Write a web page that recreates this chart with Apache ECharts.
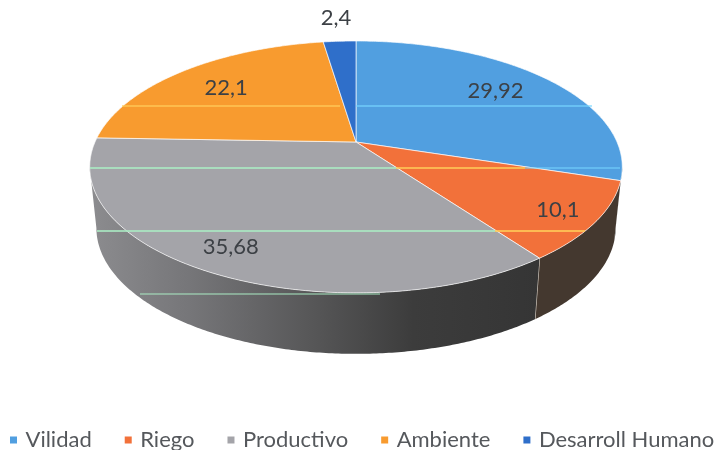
<!DOCTYPE html>
<html><head><meta charset="utf-8">
<style>html,body{margin:0;padding:0;background:#fff}#c{width:719px;height:450px}</style>
<script src="https://cdn.jsdelivr.net/npm/echarts@6/dist/echarts.min.js"></script>
</head><body><div id="c"></div>
<script>
const categories = ['Vilidad','Riego','Productivo','Ambiente','Desarroll Humano'];
const values = [29.92,10.1,35.68,22.1,2.4];
const topColors = ['#519fe0','#f2713a','#a4a4a9','#f89b2f','#2f6fca'];

const total = values.reduce((a,b)=>a+b,0);
const cum = [0]; values.forEach((v,i)=>cum.push(cum[i]+v));
const CX=356, CY=142, A=261, B=121, K=-0.198, DEPTH=61, SHRINK=0.975;
const WALL_FROM=Math.acos(K), WALL_TO=2*Math.PI-Math.acos(K);
function proj(theta,r){
  const u=Math.sin(theta)*r, v=-Math.cos(theta)*r, d=1+K*v;
  return [CX+A*u/d, CY+B*v/d];
}
function low(p){return [CX+(p[0]-CX)*SHRINK, p[1]+DEPTH];}
function ang(x){return x/total*2*Math.PI;}
function arc(a0,a1){
  const n=Math.max(2,Math.ceil((a1-a0)/0.01)),pts=[];
  for(let i=0;i<=n;i++)pts.push(proj(a0+(a1-a0)*i/n,1));
  return pts;
}
const wallFill=[
  '#2b2b2b','#44382f',
  {type:'linear',x:0,y:0,x2:1,y2:0,colorStops:[{offset:0,color:'#8c8c8f'},{offset:0.22,color:'#767679'},{offset:0.5,color:'#565657'},{offset:0.72,color:'#3c3c3c'},{offset:1,color:'#353535'}]},
  '#8a6a3a','#2a4a80'
];
const labelPlace=[[0.78,-11,0],[0.78,20,7],[0.78,-15,8],[0.78,8,3],[1.2,-1,-7]];
const fmt=v=>String(v).replace('.',',');
const FONT='Lato, "Open Sans", sans-serif';

function renderWall(params){
  const i=params.dataIndex;
  const a0=Math.max(ang(cum[i]),WALL_FROM), a1=Math.min(ang(cum[i+1]),WALL_TO);
  if(a1<=a0) return {type:'group',children:[]};
  const t=arc(a0,a1), pts=t.concat(t.slice().reverse().map(low));
  const kids=[{type:'polygon',shape:{points:pts},style:{fill:wallFill[i]}}];
  if(a1<WALL_TO && ang(cum[i+1])>WALL_FROM+0.2){
    const p=proj(a1,1),q=low(p);
    kids.push({type:'line',shape:{x1:p[0],y1:p[1],x2:q[0],y2:q[1]},style:{stroke:'#d8cfc4',lineWidth:1.2}});
  }
  return {type:'group',children:kids};
}
function renderTop(i){
  return function(){
    const a0=ang(cum[i]),a1=ang(cum[i+1]);
    const pts=[[CX,CY]].concat(arc(a0,a1));
    return {type:'polygon',shape:{points:pts},style:{fill:topColors[i],stroke:'rgba(255,255,255,0.65)',lineWidth:1}};
  };
}
function renderLabel(params){
  const i=params.dataIndex, lp=labelPlace[i];
  const p=proj(ang(cum[i]+values[i]/2),lp[0]);
  return {type:'text',x:p[0]+lp[1],y:p[1]+lp[2],style:{text:fmt(values[i]),font:'22px '+FONT,fill:'#3c4045',textAlign:'center',textVerticalAlign:'middle'}};
}
const series=[{type:'custom',name:'paredes',coordinateSystem:'none',renderItem:renderWall,data:values,z:1,silent:true}];
categories.forEach((n,i)=>series.push({type:'custom',name:n,coordinateSystem:'none',renderItem:renderTop(i),data:[values[i]],z:2,itemStyle:{color:topColors[i]}}));
series.push({type:'custom',name:'etiquetas',coordinateSystem:'none',renderItem:renderLabel,data:values,z:4,silent:true});

// horizontal scanner streaks of the source picture
const streaks=[
  [122,106,340,'rgba(255,205,90,0.65)'],[356,106,592,'rgba(120,215,255,0.6)'],
  [90,168,396,'rgba(170,235,195,0.8)'],[396,168,525,'rgba(255,205,90,0.75)'],[525,168,620,'rgba(120,215,255,0.5)'],
  [97,231,495,'rgba(170,235,195,0.8)'],[495,231,585,'rgba(255,205,90,0.8)'],
  [140,294,380,'rgba(170,235,195,0.5)']
];
const chart=echarts.init(document.getElementById('c'),null,{renderer:'canvas'});
chart.setOption({
  animation:false,
  backgroundColor:'#fff',
  color:topColors,
  legend:{data:categories,top:429,left:10,padding:0,icon:'rect',itemWidth:7,itemHeight:7,itemGap:33,
    textStyle:{fontFamily:FONT,fontSize:22,color:'#55585c',padding:[0,0,0,3.5]},selectedMode:false},
  series:series,
  graphic:streaks.map(s=>({type:'line',z:3,silent:true,shape:{x1:s[0],y1:s[1],x2:s[2],y2:s[1]},style:{stroke:s[3],lineWidth:2}}))
});
</script></body></html>
